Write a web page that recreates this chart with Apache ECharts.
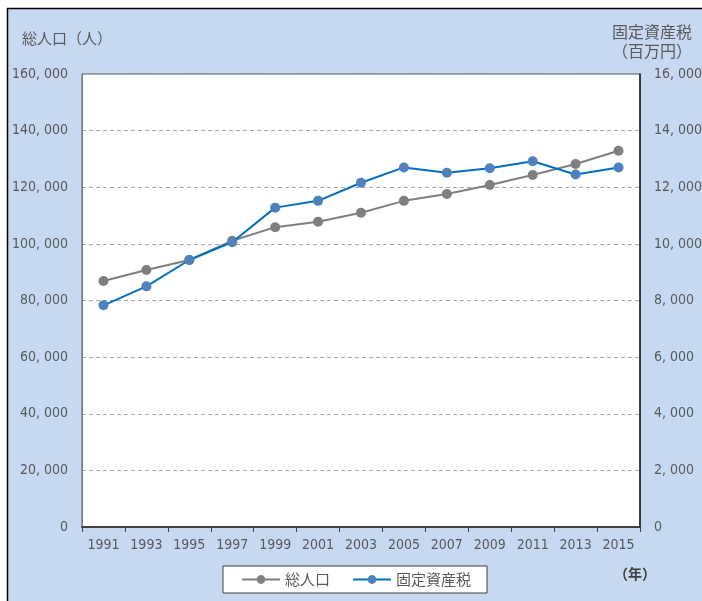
<!DOCTYPE html>
<html>
<head>
<meta charset="utf-8">
<style>
  html, body { margin: 0; padding: 0; background: #fff; }
  #chart { width: 702px; height: 601px; }
</style>
<script src="https://cdn.jsdelivr.net/npm/echarts@6/dist/echarts.min.js"></script>
</head>
<body>
<div id="chart"></div>
<script>
// Survey years (every other year)
const years = ['1991', '1993', '1995', '1997', '1999', '2001', '2003', '2005', '2007', '2009', '2011', '2013', '2015'];
// Total population (persons)
const population = [86900, 90800, 94300, 101100, 105900, 107800, 111000, 115200, 117600, 120800, 124300, 128200, 132900];
// Fixed asset tax revenue (million yen)
const propertyTax = [7830, 8500, 9430, 10060, 11280, 11520, 12160, 12700, 12510, 12670, 12920, 12450, 12700];

const seriesNames = ['総人口', '固定資産税'];
const leftAxisTitle = '総人口（人）';
const rightAxisTitle = '固定資産税\n（百万円）';
const xAxisTitle = '（年）';

const numFont = '"DejaVu Sans Condensed", "Noto Sans CJK JP", sans-serif';
const jpFont = '"Noto Sans CJK JP", sans-serif';
const labelColor = '#595959';

// thousands separator drawn as ", "
const fmt = v => String(v).replace(/\B(?=(\d{3})+(?!\d))/g, ', ');

const chart = echarts.init(document.getElementById('chart'), null, { renderer: 'canvas' });

chart.setOption({
  backgroundColor: '#ffffff',
  animation: false,
  graphic: [
    {
      type: 'rect',
      z: -10,
      silent: true,
      shape: { x: 7.5, y: 8.5, width: 760, height: 660 },
      style: { fill: '#c6d9f1', stroke: '#000000', lineWidth: 1.5 }
    },
    {
      type: 'text',
      left: 22, top: 31,
      style: { text: leftAxisTitle, font: '15px ' + jpFont, fill: labelColor }
    },
    {
      type: 'text',
      left: 612, top: 22,
      style: { text: rightAxisTitle, font: '16px ' + jpFont, fill: labelColor, align: 'center', lineHeight: 19 }
    },
    {
      type: 'text',
      left: 614, top: 567,
      style: { text: xAxisTitle, font: 'bold 14px ' + jpFont, fill: '#404040' }
    }
  ],
  grid: {
    left: 82, right: 62, top: 74, bottom: 74,
    show: true,
    backgroundColor: '#ffffff',
    borderColor: '#595959',
    borderWidth: 1,
    containLabel: false,
    outerBoundsMode: 'none'
  },
  legend: {
    data: seriesNames,
    left: 223, top: 566,
    backgroundColor: '#ffffff',
    borderColor: '#404040',
    borderWidth: 1,
    padding: [6, 16, 6, 18],
    itemGap: 22,
    itemWidth: 38,
    itemHeight: 11,
    textStyle: { fontFamily: jpFont, fontSize: 15, color: labelColor }
  },
  xAxis: {
    type: 'category',
    data: years,
    boundaryGap: true,
    axisLine: { show: true, lineStyle: { color: '#404040', width: 2 } },
    axisTick: { show: true, alignWithLabel: false, length: 5, lineStyle: { color: '#404040', width: 1 } },
    axisLabel: { interval: 0, hideOverlap: false, margin: 11, fontFamily: numFont, fontSize: 14, color: labelColor },
    splitLine: { show: false }
  },
  yAxis: [
    {
      type: 'value',
      min: 0, max: 160000, interval: 20000,
      axisLine: { show: true, lineStyle: { color: '#7f7f7f', width: 1 } },
      axisTick: { show: false },
      axisLabel: { margin: 14, fontFamily: numFont, fontSize: 14, color: labelColor, formatter: fmt },
      splitLine: { show: true, lineStyle: { color: '#a6a6a6', type: [4, 3], width: 1 } }
    },
    {
      type: 'value',
      min: 0, max: 16000, interval: 2000,
      position: 'right',
      axisLine: { show: true, lineStyle: { color: '#1a1a1a', width: 1.5 } },
      axisTick: { show: false },
      axisLabel: { margin: 14, fontFamily: numFont, fontSize: 14, color: labelColor, formatter: fmt },
      splitLine: { show: false }
    }
  ],
  series: [
    {
      name: seriesNames[0],
      type: 'line',
      yAxisIndex: 0,
      data: population,
      symbol: 'circle',
      symbolSize: 10,
      lineStyle: { color: '#7f7f7f', width: 2 },
      itemStyle: { color: '#7f7f7f' },
      z: 2
    },
    {
      name: seriesNames[1],
      type: 'line',
      yAxisIndex: 1,
      data: propertyTax,
      symbol: 'circle',
      symbolSize: 10,
      lineStyle: { color: '#0070c0', width: 2 },
      itemStyle: { color: '#4f81bd' },
      z: 3
    }
  ]
});
</script>
</body>
</html>
